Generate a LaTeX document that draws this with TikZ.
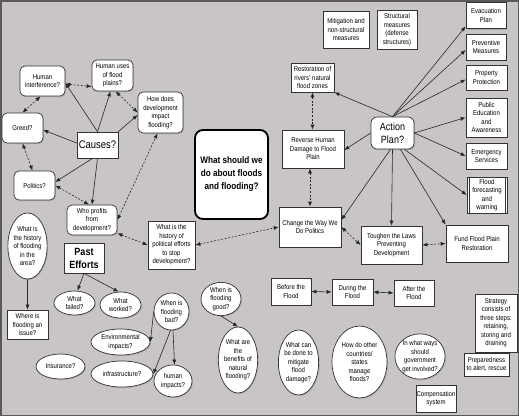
\documentclass[tikz,border=0pt]{standalone}
\usepackage{fontspec}
\setmainfont{Liberation Sans}[FakeStretch=0.86]
\usetikzlibrary{arrows.meta,shapes.geometric,shadows}
\definecolor{bg}{RGB}{201,197,197}
\newcommand\fsm{\fontsize{7}{8.5}\selectfont}
\begin{document}
\begin{tikzpicture}[x=1pt,y=-1pt,
 base/.style={draw=black!80, line width=0.7pt, fill=white, align=center, font=\fsm, inner sep=0.5pt,
   drop shadow={shadow xshift=1pt, shadow yshift=-1pt, opacity=0.35}},
 rbox/.style={base, rectangle},
 rrbox/.style={base, rectangle, rounded corners=5pt},
 ell/.style={base, ellipse, inner sep=0pt},
 sz/.style 2 args={minimum width=#1pt, minimum height=#2pt},
 ar/.style={draw=black!85, line width=0.6pt, -{Latex[length=5pt,width=4pt]}},
 dar/.style={draw=black!85, line width=0.6pt, dash pattern=on 2pt off 1.6pt,
   {Latex[length=5pt,width=4pt]}-{Latex[length=5pt,width=4pt]}},
 sar/.style={draw=black!85, line width=0.6pt, {Latex[length=5pt,width=4pt]}-{Latex[length=5pt,width=4pt]}}
 ]
\path[fill=bg] (0,0) rectangle (519,416);
\draw[black!65, line width=1.5pt] (0.75,0.75) rectangle (518.25,415.25);

% left cluster
\node[rrbox, sz={45}{30}] (hi) at (42.5,81) {Human\\interference?};
\node[rrbox, sz={41}{31}] (hu) at (112.5,75.5) {Human uses\\of flood\\plains?};
\node[rrbox, sz={45}{41}] (hdd) at (160.5,112.5) {How does\\development\\impact\\flooding?};
\node[rrbox, sz={41}{30}] (greed) at (22.5,128) {Greed?};
\node[rbox, sz={41}{26}, font=\fontsize{11}{13}\selectfont] (causes) at (97.5,145) {Causes?};
\node[rrbox, sz={41}{29}] (politics) at (34.5,185.5) {Politics?};
\node[rrbox, sz={50}{30}] (wp) at (92,220) {Who profits\\from\\development?};
\node[rbox, sz={47}{48}] (hpe) at (171.5,245) {What is the\\history of\\political efforts\\to stop\\development?};
\node[rrbox, sz={73}{89}, line width=1.8pt, draw=black, rounded corners=8pt,
  font=\fontsize{9.5}{13}\selectfont\bfseries] (main) at (231.5,174.5) {What should we\\do about floods\\and flooding?};

% top middle
\node[rbox, sz={46}{37}] (mit) at (346,29.5) {Mitigation and\\non-structural\\measures};
\node[rbox, sz={40}{39}] (struct) at (397,29.5) {Structural\\measures\\(defense\\structures)};
\node[rbox, sz={43}{29}] (rest) at (312.5,77.5) {Restoration of\\rivers' natural\\flood zones};
\node[rrbox, sz={43}{32}, rounded corners=6pt, font=\fontsize{10.5}{13}\selectfont] (ap) at (392.5,133) {Action\\Plan?};
\node[rbox, sz={62}{38}] (rev) at (313,149) {Reverse Human\\Damage to Flood\\Plain};
\node[rbox, sz={62}{40}] (cw) at (310,227) {Change the Way We\\Do Politics};
\node[rbox, sz={61}{38}] (tough) at (391.5,245) {Toughen the Laws\\Preventing\\Development};
\node[rbox, sz={62}{37}] (fund) at (477,243.5) {Fund Flood Plain\\Restoration};

% right column
\node[rbox, sz={40}{26}] (evac) at (486,15.5) {Evacuation\\Plan};
\node[rbox, sz={40}{26}] (prev) at (486,47) {Preventive\\Measures};
\node[rbox, sz={41}{25}] (prop) at (486.5,77.5) {Property\\Protection};
\node[rbox, sz={41}{39}] (pub) at (486.5,117.5) {Public\\Education\\and\\Awareness};
\node[rbox, sz={41}{26}] (emer) at (486.5,156) {Emergency\\Services};
\node[rbox, sz={40}{36}] (ff) at (487,195) {Flood\\forecasting\\and\\warning};
\draw[black!80, line width=0.6pt] ([xshift=2.5pt]ff.north west) -- ([xshift=2.5pt]ff.south west);
\draw[black!80, line width=0.6pt] ([xshift=-2.5pt]ff.north east) -- ([xshift=-2.5pt]ff.south east);

% bottom left
\node[ell, sz={37}{66}] (hist) at (27.5,246) {What is\\the history\\of flooding\\in the\\area?};
\node[rbox, sz={40}{30}, font=\fontsize{10.5}{13}\selectfont\bfseries] (past) at (84,258) {Past\\Efforts};
\node[rbox, sz={41}{29}] (where) at (27.5,324.5) {Where is\\flooding an\\issue?};
\node[ell, sz={41}{24}] (failed) at (74.5,303) {What\\failed?};
\node[ell, sz={41}{26}] (worked) at (120.5,305) {What\\worked?};
\node[ell, sz={35}{37}] (bad) at (171.5,311.5) {When is\\flooding\\bad?};
\node[ell, sz={59}{26}] (env) at (120.5,342) {Environmental\\impacts?};
\node[ell, sz={49}{25}] (ins) at (60.5,366.5) {Insurance?};
\node[ell, sz={62}{26}] (infra) at (122,374) {infrastructure?};
\node[ell, sz={38}{32}] (human) at (173,381) {human\\impacts?};
\node[ell, sz={40}{28}] (good) at (221,299) {When is\\flooding\\good?};
\node[ell, sz={38}{66}] (benef) at (238,360) {What are\\the\\benefits of\\natural\\flooding?};

% bottom right
\node[rbox, sz={40}{27}] (before) at (291,291.5) {Before the\\Flood};
\node[rbox, sz={41}{26}] (during) at (352.5,292) {During the\\Flood};
\node[rbox, sz={40}{26}] (after) at (414,293) {After the\\Flood};
\node[ell, sz={37}{65}] (mitig) at (298.5,362.5) {What can\\be done to\\mitigate\\flood\\damage?};
\node[ell, sz={55}{72}] (other) at (359.5,362) {How do other\\countries/\\states\\manage\\floods?};
\node[ell, sz={46}{43}] (gov) at (420,356.5) {In what ways\\should\\government\\get involved?};
\node[rbox, sz={42}{58}] (strat) at (496,323) {Strategy\\consists of\\three steps:\\retaining,\\storing and\\draining};
\node[rbox, sz={45}{23}] (prep) at (486.5,364.5) {Preparedness\\to alert, rescue};
\node[rbox, sz={38}{27}] (comp) at (436,398.5) {Compensation\\system};

% causes edges
\draw[ar] (causes.north) -- ([yshift=-2pt]hi.east);
\draw[ar] (causes.north) -- ([xshift=-2pt]hu.south);
\draw[ar] (causes.north east) -- ([yshift=-2.5pt]hdd.west);
\draw[ar] ([yshift=2pt]causes.west) -- ([yshift=-2pt]greed.east);
\draw[ar] ([xshift=-5pt]causes.south) -- ([yshift=3.5pt]politics.east);
\draw[ar] (causes.south) -- (wp.north);

% dashed left
\draw[dar] ([yshift=-3pt]hi.east) -- ([yshift=-11pt]hu.west);
\draw[dar] ([xshift=-2pt]hi.south) -- (greed.north);
\draw[dar] ([xshift=3pt]hu.south) -- (hdd.west);
\draw[dar] (greed.south) -- ([xshift=-2pt]politics.north);
\draw[dar] (politics.east) -- ([xshift=-3pt]wp.north);
\draw[dar] (wp.east) -- ([xshift=-3pt]hdd.south);
\draw[dar] ([yshift=2pt]wp.south east) -- (hpe.west);
\draw[dar] (hpe.east) -- (cw.west);

% dashed right
\draw[dar] (rest.south) -- (rest.south |- rev.north);
\draw[dar] ([xshift=-3pt]rev.south) -- (cw.north);
\draw[dar] (cw.east) -- (tough.west);
\draw[dar] (tough.east) -- (fund.west);

% action plan edges
\draw[ar] (ap.north) -- (rest.south east);
\draw[ar] (ap.west) -- ([yshift=-1pt]rev.east);
\draw[ar] ([xshift=-2pt]ap.south) -- ([yshift=7pt]cw.east);
\draw[ar] (ap.south) -- (tough.north);
\draw[ar] ([xshift=8pt]ap.south) -- (fund.north west);
\draw[ar] ([xshift=12pt]ap.south) -- (ff.west);
\draw[ar] (ap.east) -- (pub.west);
\draw[ar] (ap.east) -- (emer.west);
\draw[ar] (ap.north) -- ([yshift=2.5pt]evac.south west);
\draw[ar] (ap.north) -- ([yshift=-3pt]prev.west);
\draw[ar] (ap.north) -- ([yshift=-2pt]prop.west);

% bottom edges
\draw[ar] (past.south) -- ([xshift=3pt]failed.north);
\draw[ar] (past.south) -- ([xshift=-2pt]worked.north);
\draw[ar] (hist.south) -- (where.north);
\draw[ar] (bad.west) -- (env.east);
\draw[ar] ([xshift=-1pt]bad.south) -- (infra.east);
\draw[ar] ([xshift=1.5pt]bad.south) -- ([xshift=1.5pt]human.north);
\draw[ar] (good.south) -- (benef.north);
\draw[sar] (before.east) -- (during.west);
\draw[sar] (during.east) -- (after.west);
\end{tikzpicture}
\end{document}
